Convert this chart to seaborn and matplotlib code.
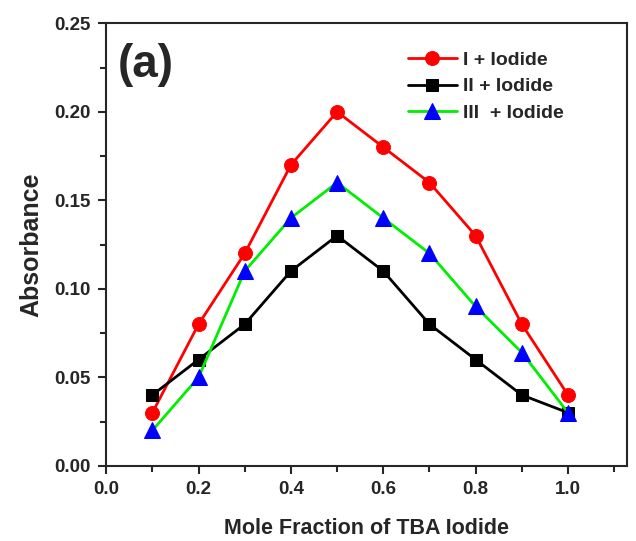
import pandas as pd
import seaborn as sns
import matplotlib.pyplot as plt
from matplotlib.ticker import MultipleLocator

mole_fraction = [0.1, 0.2, 0.3, 0.4, 0.5, 0.6, 0.7, 0.8, 0.9, 1.0]
abs_I = [0.03, 0.08, 0.12, 0.17, 0.20, 0.18, 0.16, 0.13, 0.08, 0.04]
abs_II = [0.04, 0.06, 0.08, 0.11, 0.13, 0.11, 0.08, 0.06, 0.04, 0.03]
abs_III = [0.02, 0.05, 0.11, 0.14, 0.16, 0.14, 0.12, 0.09, 0.064, 0.03]
labels = ['I + Iodide', 'II + Iodide', 'III  + Iodide']

sns.set_style('ticks')
plt.rcParams['font.family'] = ['Liberation Sans', 'DejaVu Sans']
plt.rcParams['font.weight'] = 'bold'

fig, ax = plt.subplots(figsize=(6.36, 5.41), dpi=100)
fig.subplots_adjust(left=0.167, right=0.986, top=0.957, bottom=0.139)

df = pd.DataFrame({'x': mole_fraction, 'I': abs_I, 'II': abs_II, 'III': abs_III})

sns.lineplot(data=df, x='x', y='I', ax=ax, color='#ff0000', lw=2, marker='o',
             markersize=10, markerfacecolor='#ff0000', markeredgecolor='#ff0000', label=labels[0])
sns.lineplot(data=df, x='x', y='II', ax=ax, color='black', lw=2, marker='s',
             markersize=9, markerfacecolor='black', markeredgecolor='black', label=labels[1])
sns.lineplot(data=df, x='x', y='III', ax=ax, color='#00ee00', lw=2, marker='^',
             markersize=11, markerfacecolor='#0000ff', markeredgecolor='#0000ff', label=labels[2])

ax.set_xlim(0, 1.128)
ax.set_ylim(0, 0.25)
ax.xaxis.set_major_locator(MultipleLocator(0.2))
ax.xaxis.set_minor_locator(MultipleLocator(0.1))
ax.yaxis.set_major_locator(MultipleLocator(0.05))
ax.yaxis.set_minor_locator(MultipleLocator(0.025))
ax.xaxis.set_major_formatter(plt.FormatStrFormatter('%.1f'))
ax.yaxis.set_major_formatter(plt.FormatStrFormatter('%.2f'))
ax.tick_params(which='major', direction='out', length=6, width=1.5, labelsize=13.5, pad=5)
ax.tick_params(which='minor', direction='out', length=4, width=1.5)
for s in ax.spines.values():
    s.set_linewidth(1.5)
    s.set_visible(True)

ax.set_xlabel('Mole Fraction of TBA Iodide', fontsize=15.5, fontweight='bold', labelpad=14)
ax.set_ylabel('Absorbance', fontsize=18, fontweight='bold', labelpad=8)
ax.text(0.022, 0.955, '(a)', transform=ax.transAxes, fontsize=33, fontweight='bold', va='top')

ax.legend(loc='upper left', bbox_to_anchor=(0.546, 0.976), frameon=False,
          handlelength=2.5, labelspacing=0.45, handletextpad=0.3,
          prop={'weight': 'bold', 'size': 14})

fig.savefig('out.png', dpi=100)
